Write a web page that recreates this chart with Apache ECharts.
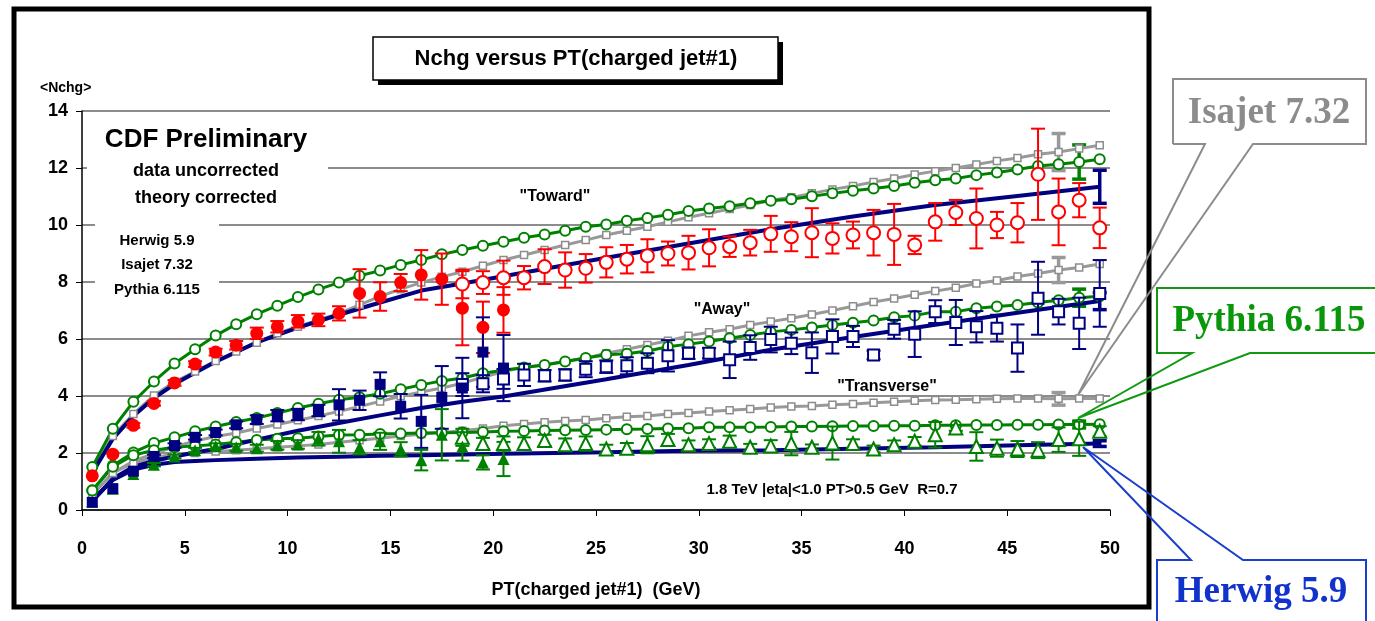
<!DOCTYPE html>
<html>
<head>
    <meta charset="utf-8">
</head>
<body style="margin: 0; background: #fff">
    <div id="container" style="width: 1375px; height: 621px"></div>
    <script type="text/javascript" src="https://cdn.jsdelivr.net/npm/echarts@6/dist/echarts.min.js"></script>
    <script>
        // PT bins (GeV)
        const ptModel = [0.5,1.5,2.5,3.5,4.5,5.5,6.5,7.5,8.5,9.5,10.5,11.5,12.5,13.5,14.5,15.5,16.5,17.5,18.5,19.5,20.5,21.5,22.5,23.5,24.5,25.5,26.5,27.5,28.5,29.5,30.5,31.5,32.5,33.5,34.5,35.5,36.5,37.5,38.5,39.5,40.5,41.5,42.5,43.5,44.5,45.5,46.5,47.5,48.5,49.5]
        const ptMB = [0.5,1.5,2.5,3.5,4.5,5.5,6.5,7.5,8.5,9.5,10.5,11.5,12.5,13.5,14.5,15.5,16.5,17.5,18.5,19.5,20.5]
        const ptJet = [18.5,19.5,20.5,21.5,22.5,23.5,24.5,25.5,26.5,27.5,28.5,29.5,30.5,31.5,32.5,33.5,34.5,35.5,36.5,37.5,38.5,39.5,40.5,41.5,42.5,43.5,44.5,45.5,46.5,47.5,48.5,49.5]
        const ptHerwig = [0.5,1.5,2.5,3.5,4.5,5.5,6.5,8.5,10.5,12.5,14.5,16.5,18.5,20.5,25.5,29.5,33.5,37.5,41.5,45.5,49.5]

        // data: "Toward"
        const towardMB = [1.2,1.96,2.97,3.74,4.46,5.12,5.54,5.78,6.2,6.43,6.62,6.67,6.9,7.6,7.49,7.98,8.25,8.1,7.08,6.41,7.02]
        const towardMBErr = [0.05,0.05,0.08,0.08,0.1,0.1,0.12,0.15,0.2,0.2,0.22,0.22,0.25,0.85,0.5,0.3,0.87,0.9,1.3,0.9,0.8]
        const towardJet = [7.93,7.98,8.15,8.15,8.54,8.42,8.48,8.69,8.8,8.92,9.0,9.03,9.2,9.24,9.38,9.69,9.59,9.73,9.53,9.65,9.73,9.67,9.3,10.11,10.44,10.23,10.0,10.08,11.78,10.46,10.87,9.9]
        const towardJetErr = [0.5,0.4,0.6,0.41,0.61,0.62,0.5,0.53,0.5,0.58,0.42,0.59,0.65,0.36,0.45,0.63,0.51,0.86,0.53,0.47,0.8,1.07,0.32,0.66,0.44,1.05,0.46,0.69,1.6,1.17,0.6,0.71]
        // data: "Away"
        const awayMB = [0.27,0.75,1.36,1.88,2.26,2.55,2.72,2.99,3.17,3.31,3.35,3.49,3.69,3.85,4.41,3.64,3.11,3.95,4.28,5.54,4.98]
        const awayMBErr = [0.03,0.04,0.05,0.06,0.08,0.08,0.1,0.12,0.15,0.2,0.2,0.2,0.55,0.34,0.42,0.43,0.93,1.1,1.06,1.22,1.16]
        const awayJet = [4.4,4.43,4.6,4.74,4.71,4.74,4.94,5.03,5.06,5.15,5.41,5.5,5.5,5.27,5.7,5.98,5.85,5.52,6.09,6.09,5.44,6.34,6.17,6.96,6.58,6.43,6.38,5.68,7.43,6.96,6.55,7.6]
        const awayJetErr = [0.4,0.3,0.35,0.39,0.2,0.2,0.28,0.22,0.3,0.35,0.55,0.2,0.18,0.64,0.43,0.45,0.38,0.71,0.6,0.37,0.15,0.33,0.8,0.4,0.79,0.55,0.47,0.83,1.28,0.45,0.9,1.17]
        // data: "Transverse"
        const transMB = [0.3,0.75,1.26,1.59,1.88,2.1,2.24,2.2,2.17,2.27,2.3,2.5,2.41,2.2,2.41,2.13,1.75,2.64,2.23,1.67,1.79]
        const transMBErr = [0.03,0.04,0.05,0.06,0.07,0.08,0.1,0.12,0.12,0.15,0.15,0.24,0.4,0.25,0.3,0.25,0.36,0.9,0.5,0.25,0.6]
        const transJet = [2.55,2.33,2.33,2.33,2.44,2.29,2.33,2.14,2.17,2.29,2.47,2.29,2.33,2.41,2.2,2.25,2.33,2.2,2.35,2.33,2.14,2.29,2.41,2.64,2.88,2.23,2.17,2.14,2.1,2.47,2.5,2.76]
        const transJetErr = [0.3,0.2,0.25,0.22,0.2,0.22,0.25,0.15,0.18,0.3,0.2,0.15,0.15,0.2,0.12,0.2,0.41,0.1,0.58,0.15,0.12,0.15,0.15,0.45,0.1,0.5,0.3,0.28,0.28,0.43,0.6,0.18]

        // theory curves
        const pythiaToward = [1.51,2.85,3.8,4.51,5.14,5.64,6.12,6.52,6.87,7.17,7.47,7.74,7.98,8.22,8.4,8.6,8.77,8.97,9.12,9.27,9.41,9.55,9.67,9.8,9.94,10.02,10.15,10.25,10.36,10.49,10.58,10.66,10.76,10.85,10.9,11.01,11.11,11.2,11.28,11.37,11.48,11.57,11.63,11.75,11.84,11.95,12.07,12.13,12.21,12.31]
        const pythiaAway = [0.69,1.56,2.02,2.35,2.55,2.76,2.93,3.09,3.23,3.4,3.58,3.73,3.87,3.96,4.08,4.24,4.39,4.53,4.63,4.8,4.9,5.0,5.09,5.21,5.33,5.45,5.48,5.58,5.73,5.82,5.91,6.03,6.14,6.25,6.32,6.4,6.49,6.57,6.65,6.76,6.82,6.96,6.96,7.08,7.14,7.19,7.28,7.36,7.45,7.5]
        const pythiaTrans = [0.68,1.52,1.92,2.1,2.2,2.25,2.3,2.38,2.46,2.5,2.52,2.58,2.63,2.64,2.67,2.68,2.7,2.71,2.72,2.74,2.76,2.77,2.79,2.8,2.81,2.82,2.83,2.84,2.86,2.87,2.9,2.9,2.9,2.91,2.93,2.93,2.94,2.95,2.95,2.96,2.96,2.97,2.97,2.98,2.98,2.99,2.99,3.0,3.0,3.01]
        const isajetToward = [1.4,2.6,3.37,4.02,4.5,4.86,5.23,5.56,5.87,6.2,6.43,6.67,6.9,7.2,7.5,7.75,7.98,8.18,8.36,8.57,8.77,8.95,9.12,9.3,9.47,9.65,9.8,9.94,10.11,10.27,10.41,10.56,10.7,10.87,10.97,11.11,11.25,11.37,11.51,11.63,11.77,11.89,12.0,12.12,12.25,12.35,12.48,12.56,12.68,12.8]
        const isajetAway = [0.54,1.3,1.72,1.98,2.22,2.42,2.58,2.7,2.86,3.0,3.15,3.3,3.46,3.63,3.81,3.99,4.14,4.28,4.45,4.66,4.86,5.01,5.1,5.21,5.33,5.5,5.64,5.79,5.94,6.11,6.24,6.34,6.49,6.61,6.73,6.86,7.0,7.15,7.3,7.42,7.55,7.68,7.8,7.95,8.05,8.19,8.3,8.42,8.51,8.63]
        const isajetTrans = [0.54,1.3,1.65,1.85,1.95,2.0,2.05,2.1,2.15,2.2,2.25,2.3,2.38,2.45,2.52,2.6,2.66,2.72,2.78,2.86,2.96,3.02,3.08,3.12,3.16,3.22,3.27,3.3,3.37,3.4,3.46,3.5,3.54,3.6,3.63,3.65,3.69,3.72,3.76,3.8,3.83,3.86,3.87,3.89,3.9,3.91,3.91,3.9,3.91,3.91]
        const herwigToward = [1.3,2.5,3.3,3.93,4.42,4.82,5.2,5.88,6.4,6.85,7.28,7.7,7.95,8.2,8.85,9.35,9.85,10.3,10.7,11.02,11.34]
        const herwigAway = [0.3,1.1,1.52,1.72,1.88,2.02,2.14,2.47,2.78,3.05,3.32,3.58,3.8,3.98,4.59,5.09,5.62,6.07,6.5,6.92,7.33]
        const herwigTrans = [0.35,1.05,1.42,1.59,1.68,1.72,1.75,1.8,1.84,1.87,1.9,1.92,1.95,1.97,2.03,2.08,2.1,2.15,2.2,2.27,2.33]
        // theory error bars drawn at one point each (toward, away, transverse)
        const isajetErrPt = 47.5
        const isajetErrEnd = [0.65, 0.44, 0.22]
        const pythiaErrPt = 48.5
        const pythiaErrEnd = [0.6, 0.3, 0.12]
        const herwigErrPt = 49.5
        const herwigErrEnd = [0.58, 0.3, 0.1]

        const xTicks = [0, 5, 10, 15, 20, 25, 30, 35, 40, 45, 50]
        const yTicks = [0, 2, 4, 6, 8, 10, 12, 14]

        const RED = '#ff0000', NAVY = '#000080', GREEN = '#008000', GRAY = '#999999'
        const FONT = 'Arial, "Liberation Sans", sans-serif'
        const SERIF = '"Times New Roman", "Liberation Serif", serif'

        function zip(xs, ys) {
            return xs.map((x, i) => [x, ys[i]])
        }
        function errData(xs, ys, es) {
            return xs.map((x, i) => [x, ys[i] - es[i], ys[i] + es[i]])
        }
        function valueAt(xs, ys, x) {
            return ys[xs.indexOf(x)]
        }

        function errRender(params, api) {
            let x = api.value(0)
            let lo = api.value(1)
            let hi = api.value(2)
            if (hi - lo < 0.12) return null
            let p1 = api.coord([x, hi])
            let p2 = api.coord([x, lo])
            let w = 7
            let st = { stroke: api.visual('color'), lineWidth: params.seriesName.indexOf('model') == 0 ? 3.5 : 2 }
            return {
                type: 'group',
                children: [
                    { type: 'line', shape: { x1: p1[0], y1: p1[1], x2: p2[0], y2: p2[1] }, style: st },
                    { type: 'line', shape: { x1: p1[0] - w, y1: p1[1], x2: p1[0] + w, y2: p1[1] }, style: st },
                    { type: 'line', shape: { x1: p2[0] - w, y1: p2[1], x2: p2[0] + w, y2: p2[1] }, style: st }
                ]
            }
        }

        function errSeries(name, data, color, z) {
            return {
                name: name, type: 'custom', renderItem: errRender, data: data,
                itemStyle: { color: color }, z: z, silent: true,
                encode: { x: 0, y: [1, 2] }
            }
        }

        function modelLine(xs, ys, color, symbol, size, width, lineColor) {
            return {
                type: 'line', data: zip(xs, ys), z: 3,
                symbol: symbol, symbolSize: size, showSymbol: symbol != 'none', showAllSymbol: true,
                lineStyle: { color: lineColor || color, width: width },
                itemStyle: { color: '#fff', borderColor: color, borderWidth: symbol == 'rect' ? 1.5 : 2 },
                emphasis: { disabled: true }
            }
        }

        function points(xs, ys, symbol, size, color, open) {
            return {
                type: 'scatter', data: zip(xs, ys), z: 6,
                symbol: symbol, symbolSize: size,
                itemStyle: open ? { color: '#fff', borderColor: color, borderWidth: 2, opacity: 1 }
                                : { color: color, opacity: 1 },
                emphasis: { disabled: true }
            }
        }

        let series = [
            // Isajet
            modelLine(ptModel, isajetToward, '#8c8c8c', 'rect', 7, 3, GRAY),
            modelLine(ptModel, isajetAway, '#8c8c8c', 'rect', 7, 3, GRAY),
            modelLine(ptModel, isajetTrans, '#8c8c8c', 'rect', 7, 3, GRAY),
            // Pythia
            modelLine(ptModel, pythiaToward, GREEN, 'circle', 10, 3),
            modelLine(ptModel, pythiaAway, GREEN, 'circle', 10, 3),
            modelLine(ptModel, pythiaTrans, GREEN, 'circle', 10, 3),
            // Herwig
            modelLine(ptHerwig, herwigToward, NAVY, 'none', 0, 4),
            modelLine(ptHerwig, herwigAway, NAVY, 'none', 0, 4),
            modelLine(ptHerwig, herwigTrans, NAVY, 'none', 0, 4),
            errSeries('model isajet', [
                [isajetErrPt, valueAt(ptModel, isajetToward, isajetErrPt) - isajetErrEnd[0], valueAt(ptModel, isajetToward, isajetErrPt) + isajetErrEnd[0]],
                [isajetErrPt, valueAt(ptModel, isajetAway, isajetErrPt) - isajetErrEnd[1], valueAt(ptModel, isajetAway, isajetErrPt) + isajetErrEnd[1]],
                [isajetErrPt, valueAt(ptModel, isajetTrans, isajetErrPt) - isajetErrEnd[2], valueAt(ptModel, isajetTrans, isajetErrPt) + isajetErrEnd[2]]
            ], GRAY, 2),
            errSeries('model pythia', [
                [pythiaErrPt, valueAt(ptModel, pythiaToward, pythiaErrPt) - pythiaErrEnd[0], valueAt(ptModel, pythiaToward, pythiaErrPt) + pythiaErrEnd[0]],
                [pythiaErrPt, valueAt(ptModel, pythiaAway, pythiaErrPt) - pythiaErrEnd[1], valueAt(ptModel, pythiaAway, pythiaErrPt) + pythiaErrEnd[1]],
                [pythiaErrPt, valueAt(ptModel, pythiaTrans, pythiaErrPt) - pythiaErrEnd[2], valueAt(ptModel, pythiaTrans, pythiaErrPt) + pythiaErrEnd[2]]
            ], GREEN, 2),
            errSeries('model herwig', [
                [herwigErrPt, valueAt(ptHerwig, herwigToward, herwigErrPt) - herwigErrEnd[0], valueAt(ptHerwig, herwigToward, herwigErrPt) + herwigErrEnd[0]],
                [herwigErrPt, valueAt(ptHerwig, herwigAway, herwigErrPt) - herwigErrEnd[1], valueAt(ptHerwig, herwigAway, herwigErrPt) + herwigErrEnd[1]],
                [herwigErrPt, valueAt(ptHerwig, herwigTrans, herwigErrPt) - herwigErrEnd[2], valueAt(ptHerwig, herwigTrans, herwigErrPt) + herwigErrEnd[2]]
            ], NAVY, 4),
            // data error bars
            errSeries('towardMB', errData(ptMB, towardMB, towardMBErr), RED, 5),
            errSeries('towardJet', errData(ptJet, towardJet, towardJetErr), RED, 5),
            errSeries('awayMB', errData(ptMB, awayMB, awayMBErr), NAVY, 5),
            errSeries('awayJet', errData(ptJet, awayJet, awayJetErr), NAVY, 5),
            errSeries('transMB', errData(ptMB, transMB, transMBErr), GREEN, 5),
            errSeries('transJet', errData(ptJet, transJet, transJetErr), GREEN, 5),
            // data points
            points(ptJet, transJet, 'triangle', 13, GREEN, true),
            points(ptMB, transMB, 'triangle', 12, GREEN, false),
            points(ptJet, awayJet, 'rect', 11, NAVY, true),
            points(ptMB, awayMB, 'rect', 11, NAVY, false),
            points(ptJet, towardJet, 'circle', 13, RED, true),
            points(ptMB, towardMB, 'circle', 13, RED, false)
        ]

        function txt(x, y, text, size, opts) {
            opts = opts || {}
            return {
                type: 'text', x: x, y: y, z: 20,
                style: {
                    text: text, fontSize: size, fontWeight: 'bold',
                    fontFamily: opts.family || FONT, fill: opts.color || '#000',
                    align: opts.align || 'center', verticalAlign: 'middle'
                }
            }
        }

        let graphic = [
            // white patches behind the text blocks
            { type: 'rect', z: 1, shape: { x: 87, y: 160, width: 241, height: 22 }, style: { fill: '#fff' } },
            { type: 'rect', z: 1, shape: { x: 95, y: 222, width: 124, height: 68 }, style: { fill: '#fff' } },
            // title box with shadow
            { type: 'rect', z: 20, shape: { x: 378, y: 42, width: 405, height: 43 }, style: { fill: '#000' } },
            { type: 'rect', z: 20, shape: { x: 373, y: 37, width: 405, height: 43 }, style: { fill: '#fff', stroke: '#000', lineWidth: 1.5 } },
            txt(576, 59, 'Nchg versus PT(charged jet#1)', 22),
            txt(40, 88, '<Nchg>', 14, { align: 'left' }),
            txt(206, 140, 'CDF Preliminary', 26),
            txt(206, 171, 'data uncorrected', 18),
            txt(206, 198, 'theory corrected', 18),
            txt(157, 241, 'Herwig 5.9', 15),
            txt(157, 265, 'Isajet 7.32', 15),
            txt(157, 290, 'Pythia 6.115', 15),
            txt(555, 197, '"Toward"', 16),
            txt(722, 310, '"Away"', 16),
            txt(887, 387, '"Transverse"', 16),
            txt(832, 490, '1.8 TeV |eta|<1.0 PT>0.5 GeV  R=0.7', 15),
            txt(596, 590, 'PT(charged jet#1)  (GeV)', 18),
            // outer frame
            { type: 'rect', z: 30, shape: { x: 14, y: 9, width: 1135, height: 598 }, style: { fill: 'none', stroke: '#000', lineWidth: 5 } },
            // callouts
            { type: 'polyline', z: 40, shape: { points: [[1173, 144], [1173, 79], [1366, 79], [1366, 144], [1253, 144], [1078, 395], [1205, 144], [1173, 144]] },
              style: { fill: 'none', stroke: '#8c8c8c', lineWidth: 2 } },
            txt(1269, 113, 'Isajet 7.32', 37, { family: SERIF, color: '#8c8c8c' }),
            { type: 'polyline', z: 40, shape: { points: [[1380, 288], [1157, 288], [1157, 353], [1192, 353], [1078, 418], [1250, 353], [1380, 353]] },
              style: { fill: 'none', stroke: '#119911', lineWidth: 2 } },
            txt(1269, 321, 'Pythia 6.115', 37, { family: SERIF, color: '#0a960a' }),
            { type: 'polyline', z: 40, shape: { points: [[1157, 630], [1157, 560], [1191, 560], [1083, 447], [1243, 560], [1366, 560], [1366, 630]] },
              style: { fill: 'none', stroke: '#1a3fcc', lineWidth: 2 } },
            txt(1261, 592, 'Herwig 5.9', 37, { family: SERIF, color: '#1133cc' })
        ]

        let option = {
            animation: false,
            backgroundColor: '#fff',
            grid: { left: 82, right: 265, top: 111, bottom: 111, containLabel: false, outerBoundsMode: 'none' },
            xAxis: {
                type: 'value', min: xTicks[0], max: xTicks[xTicks.length - 1], interval: 5,
                axisLine: { lineStyle: { color: '#000', width: 1.5 } },
                axisTick: { show: true, length: 6, lineStyle: { color: '#000' } },
                axisLabel: { margin: 30, fontSize: 18, fontWeight: 'bold', fontFamily: FONT, color: '#000' },
                splitLine: { show: false }
            },
            yAxis: {
                type: 'value', min: yTicks[0], max: yTicks[yTicks.length - 1], interval: 2,
                axisLine: { show: true, lineStyle: { color: '#000', width: 1.5 } },
                axisTick: { show: true, length: 6, lineStyle: { color: '#000' } },
                axisLabel: { margin: 14, fontSize: 18, fontWeight: 'bold', fontFamily: FONT, color: '#000' },
                splitLine: { show: true, lineStyle: { color: '#666', width: 1.5 } }
            },
            series: series,
            graphic: graphic
        }

        var myChart = echarts.init(document.getElementById('container'))
        myChart.setOption(option)
    </script>
</body>
</html>
